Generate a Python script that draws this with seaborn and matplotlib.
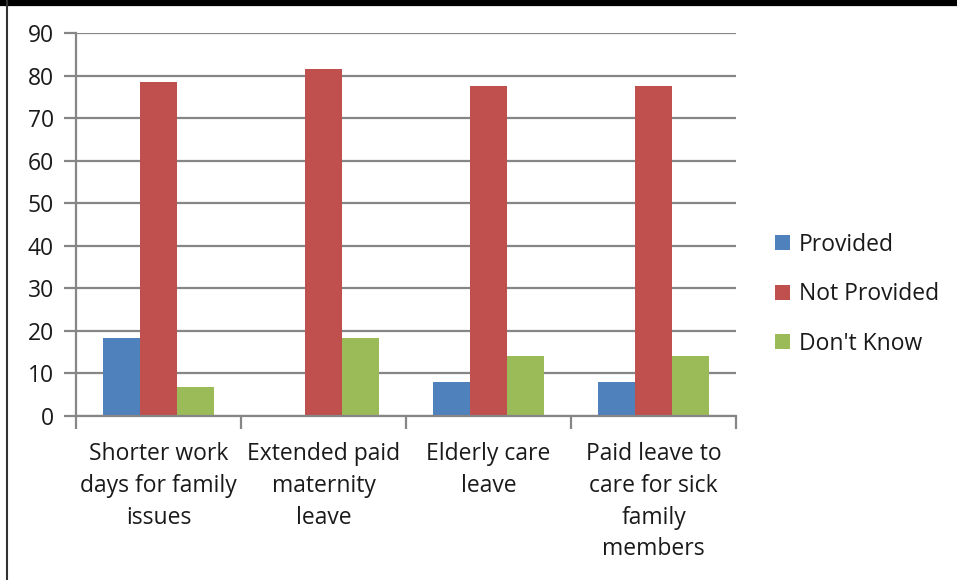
import pandas as pd
import seaborn as sns
import matplotlib.pyplot as plt
from matplotlib.lines import Line2D

# Chart data
categories = ["Shorter work\ndays for family\nissues",
              "Extended paid\nmaternity\nleave",
              "Elderly care\nleave",
              "Paid leave to\ncare for sick\nfamily\nmembers"]
provided = [18.4, 0, 8.1, 8.1]
not_provided = [78.4, 81.5, 77.5, 77.5]
dont_know = [6.9, 18.4, 14.2, 14.2]
series = ["Provided", "Not Provided", "Don't Know"]
colors = ["#4F81BD", "#C0504D", "#9BBB59"]

rows = []
for name, vals in zip(series, [provided, not_provided, dont_know]):
    for cat, v in zip(categories, vals):
        rows.append({"Category": cat, "Series": name, "Value": v})
df = pd.DataFrame(rows)

sns.set_style("white")
plt.rcParams['font.family'] = ['Open Sans', 'DejaVu Sans']

fig = plt.figure(figsize=(9.57, 5.8), dpi=100)
ax = fig.add_axes([76 / 957, 1 - 416 / 580, 660 / 957, 383 / 580])

sns.barplot(data=df, x="Category", y="Value", hue="Series", order=categories,
            hue_order=series, palette=colors, width=0.667, gap=0,
            saturation=1, ax=ax, linewidth=0)

ax.set_ylim(0, 90)
ax.set_xlim(-0.5, len(categories) - 0.5)
ax.set_yticks(range(0, 91, 10))
ax.yaxis.grid(True, color="#868686", linewidth=1.6)
ax.set_axisbelow(True)
ax.set_xlabel("")
ax.set_ylabel("")

for s in ["top", "right"]:
    ax.spines[s].set_visible(False)
for s in ["left", "bottom"]:
    ax.spines[s].set_color("#868686")
    ax.spines[s].set_linewidth(1.6)

fs = 16.5
ax.tick_params(axis="y", which="major", length=9, width=1.6, color="#868686",
               labelsize=fs, labelcolor="#1a1a1a", pad=7, direction="out", left=True)
ax.tick_params(axis="x", which="major", length=0, labelsize=fs,
               labelcolor="#1a1a1a", pad=19)
ax.set_xticks([i + 0.5 for i in range(-1, len(categories))], minor=True)
ax.tick_params(axis="x", which="minor", length=9, width=1.6, color="#868686",
               direction="out", bottom=True)
for lbl in ax.get_xticklabels():
    lbl.set_linespacing(1.42)

handles, labels = ax.get_legend_handles_labels()
ax.legend(handles, labels, loc="center left", bbox_to_anchor=(1.045, 0.318),
          frameon=False, fontsize=fs, handlelength=0.65, handleheight=0.65,
          handletextpad=0.4, labelspacing=1.12, labelcolor="#1a1a1a",
          borderaxespad=0)

# frame edges of the original screenshot
fig.add_artist(Line2D([0, 1], [1 - 3 / 580, 1 - 3 / 580], color="black", linewidth=4.5))
fig.add_artist(Line2D([7 / 957, 7 / 957], [0, 1], color="#333333", linewidth=1.5))

fig.savefig("out.png", dpi=100)
